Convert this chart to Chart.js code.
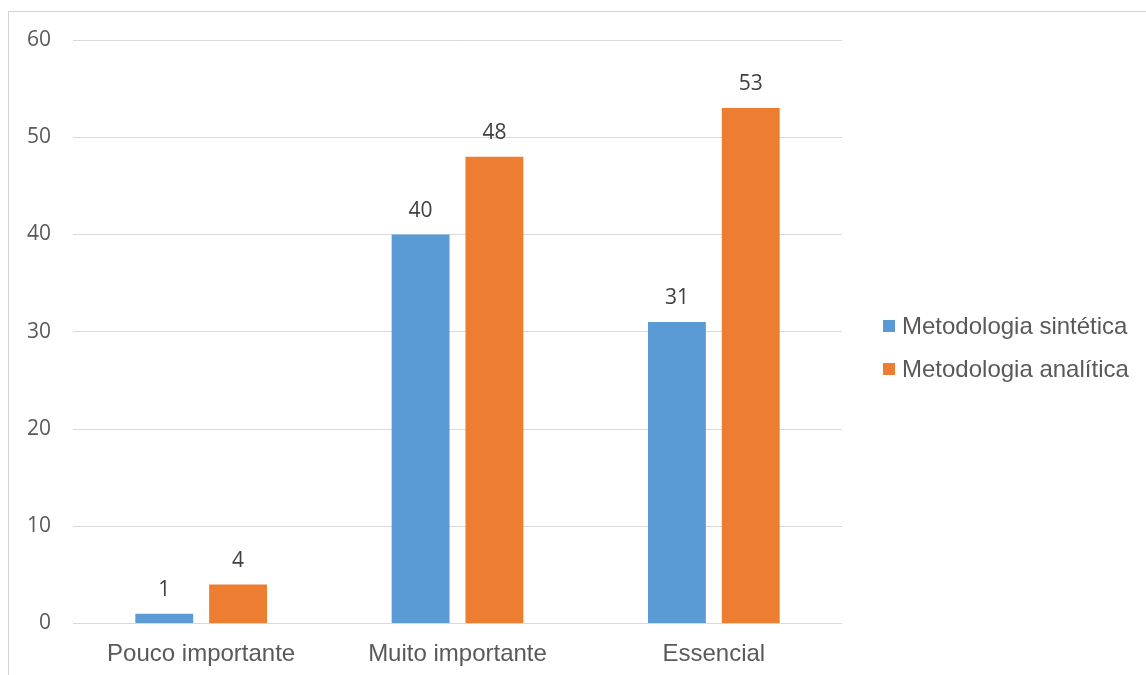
<!DOCTYPE html>
<html>
<head>
<meta charset="utf-8">
<script src="https://cdn.jsdelivr.net/npm/chart.js@4"></script>
<style>
  html, body { margin: 0; padding: 0; background: #ffffff; }
  #wrap { position: relative; width: 1146px; height: 675px; overflow: hidden; }
  #frame { position: absolute; left: 8px; top: 11px; width: 1200px; height: 700px;
           border-left: 1px solid #d4d4d4; border-top: 1px solid #d4d4d4; }
  #c { position: absolute; left: 0; top: 0; }
  #legend { position: absolute; left: 883px; top: 304px; font-family: "Liberation Sans", Arial, sans-serif;
            font-size: 24px; color: #595959; }
  .row { display: flex; align-items: center; height: 43px; white-space: nowrap; }
  .sw { width: 12px; height: 12px; margin-right: 7px; flex: none; }
</style>
</head>
<body>
<div id="wrap">
  <div id="frame"></div>
  <canvas id="c" width="1146" height="675"></canvas>
  <div id="legend"></div>
</div>
<script>
const categories = ["Pouco importante", "Muito importante", "Essencial"];
const seriesNames = ["Metodologia sintética", "Metodologia analítica"];
const sinteticaValues = [1, 40, 31];
const analiticaValues = [4, 48, 53];
const yTicks = [0, 10, 20, 30, 40, 50, 60];
const seriesColors = ["#5B9BD5", "#ED7D31"];

const valueLabels = {
  id: 'valueLabels',
  afterDatasetsDraw(chart) {
    const ctx = chart.ctx;
    ctx.save();
    ctx.font = '21px "Open Sans", sans-serif';
    ctx.fillStyle = '#404040';
    ctx.textAlign = 'center';
    ctx.textBaseline = 'alphabetic';
    chart.data.datasets.forEach((ds, i) => {
      const meta = chart.getDatasetMeta(i);
      meta.data.forEach((bar, j) => {
        ctx.fillText(String(ds.data[j]), bar.x, bar.y - 18);
      });
    });
    ctx.restore();
  }
};

const chart = new Chart(document.getElementById('c'), {
  type: 'bar',
  data: {
    labels: categories,
    datasets: [
      { label: seriesNames[0], data: sinteticaValues, backgroundColor: seriesColors[0],
        categoryPercentage: 0.576, barPercentage: 0.784 },
      { label: seriesNames[1], data: analiticaValues, backgroundColor: seriesColors[1],
        categoryPercentage: 0.576, barPercentage: 0.784 }
    ]
  },
  options: {
    responsive: false,
    animation: false,
    devicePixelRatio: 1,
    layout: { padding: { left: 0, right: 304, top: 40, bottom: 0 } },
    plugins: { legend: { display: false }, tooltip: { enabled: false } },
    scales: {
      x: {
        grid: { display: false, drawTicks: false },
        border: { display: false },
        ticks: { color: '#595959', font: { family: '"Liberation Sans", Arial, sans-serif', size: 24 }, padding: 16, maxRotation: 0 },
        afterFit(scale) { scale.height = 51.5; }
      },
      y: {
        min: 0, max: 60,
        afterBuildTicks(scale) { scale.ticks = yTicks.map(v => ({ value: v })); },
        grid: { color: '#d9d9d9', lineWidth: 1, drawTicks: false },
        border: { display: false },
        ticks: { color: '#595959', font: { family: '"Open Sans", sans-serif', size: 21 }, padding: 22 },
        afterFit(scale) { scale.width = 73; }
      }
    }
  },
  plugins: [valueLabels]
});

const legend = document.getElementById('legend');
seriesNames.forEach((name, i) => {
  const row = document.createElement('div');
  row.className = 'row';
  const sw = document.createElement('span');
  sw.className = 'sw';
  sw.style.background = seriesColors[i];
  const t = document.createElement('span');
  t.textContent = name;
  row.appendChild(sw); row.appendChild(t);
  legend.appendChild(row);
});
</script>
</body>
</html>
